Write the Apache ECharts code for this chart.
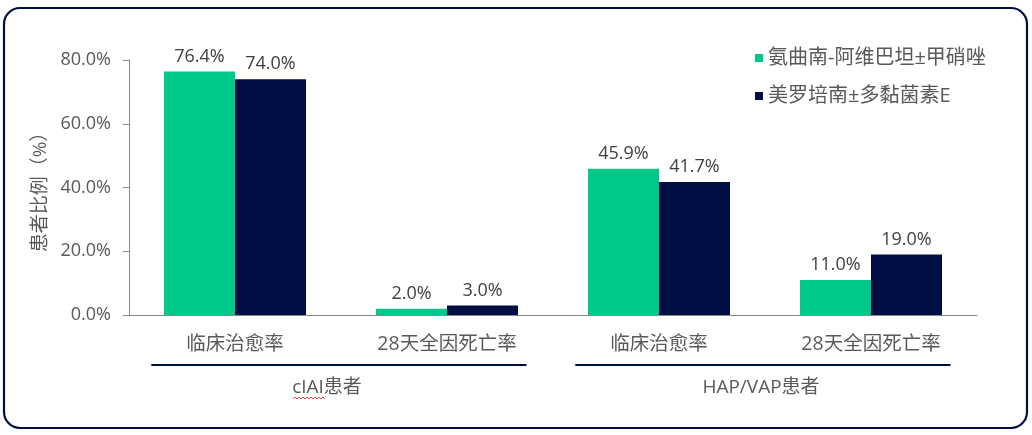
<!DOCTYPE html>
<html><head><meta charset="utf-8">
<script src="https://cdn.jsdelivr.net/npm/echarts@6/dist/echarts.min.js"></script>
<style>html,body{margin:0;padding:0;background:#fff}#c{width:1032px;height:435px}</style>
</head><body><div id="c"></div>
<script>
var categories = ['临床治愈率', '28天全因死亡率', '临床治愈率', '28天全因死亡率'];
var groupLabels = ['cIAI患者', 'HAP/VAP患者'];
var seriesNames = ['氨曲南-阿维巴坦±甲硝唑', '美罗培南±多黏菌素E'];
var seriesA = [76.4, 2.0, 45.9, 11.0];
var seriesB = [74.0, 3.0, 41.7, 19.0];
var yTicks = [0, 20, 40, 60, 80];

var FONT = '"Open Sans","Noto Sans CJK SC",sans-serif';
var GREEN = '#00C78A', NAVY = '#000E44', TXT = '#595959';
var chart = echarts.init(document.getElementById('c'));
function labelCfg() {
  return {show: true, position: 'top', distance: 6, fontSize: 18, color: '#404040', fontFamily: FONT,
    formatter: function (p) { return p.value.toFixed(1) + '%'; }};
}
chart.setOption({
  animation: false,
  textStyle: {fontFamily: FONT},
  grid: {left: 129, right: 55, top: 60, bottom: 120},
  legend: {
    orient: 'vertical', left: 750, top: 43, itemWidth: 8, itemHeight: 8, itemGap: 18,
    icon: 'rect', textStyle: {fontSize: 20, color: TXT, fontFamily: FONT},
    data: seriesNames
  },
  xAxis: {
    type: 'category', data: categories,
    axisLine: {lineStyle: {color: '#898989', width: 1}},
    axisTick: {show: false},
    axisLabel: {fontSize: 19.5, color: TXT, margin: 20, fontFamily: FONT, interval: 0}
  },
  yAxis: {
    type: 'value', min: yTicks[0], max: yTicks[yTicks.length - 1], interval: 20,
    name: '患者比例（%）', nameLocation: 'middle', nameGap: 78, nameRotate: 90,
    nameTextStyle: {fontSize: 19, color: TXT, fontFamily: FONT},
    axisLine: {show: true, lineStyle: {color: '#898989'}},
    axisTick: {show: true, length: 6, lineStyle: {color: '#898989'}},
    splitLine: {show: false},
    axisLabel: {fontSize: 18, color: TXT, margin: 18, fontFamily: FONT,
      formatter: function (v) { return v.toFixed(1) + '%'; }}
  },
  series: [
    {name: seriesNames[0], type: 'bar', data: seriesA, barGap: '0%', barCategoryGap: '33%',
     itemStyle: {color: GREEN}, label: labelCfg()},
    {name: seriesNames[1], type: 'bar', data: seriesB, barGap: '0%', barCategoryGap: '33%',
     itemStyle: {color: NAVY}, label: labelCfg()}
  ]
});

var x0 = chart.convertToPixel({xAxisIndex: 0}, 0);
var x1 = chart.convertToPixel({xAxisIndex: 0}, 1);
var catW = x1 - x0;
var yBase = chart.convertToPixel({yAxisIndex: 0}, 0);
var labelShift = [-14, -4];
var gfx = [
  {type: 'rect', shape: {x: 4, y: 8, width: 1023, height: 420, r: 16}, z: 100,
   style: {fill: 'none', stroke: NAVY, lineWidth: 2.2}, silent: true}
];
for (var g = 0; g < groupLabels.length; g++) {
  var a = chart.convertToPixel({xAxisIndex: 0}, 2 * g);
  var b = chart.convertToPixel({xAxisIndex: 0}, 2 * g + 1);
  gfx.push({type: 'line', shape: {x1: a - 0.395 * catW, y1: yBase + 50, x2: b + 0.375 * catW, y2: yBase + 50},
    style: {stroke: NAVY, lineWidth: 2.2}});
  gfx.push({type: 'text', x: (a + b) / 2 + labelShift[g], y: yBase + 73,
    style: {text: groupLabels[g], fontSize: 19, fill: TXT, fontFamily: FONT, align: 'center', verticalAlign: 'middle'}});
}
// spellcheck squiggle under "cIAI"
var sqStart = (x0 + x1) / 2 + labelShift[0] - 34, pts = [];
for (var i = 0; i <= 16; i++) pts.push([sqStart + i * 2, yBase + 83 + (i % 2 ? -1 : 1)]);
gfx.push({type: 'polyline', shape: {points: pts}, style: {stroke: '#E02020', lineWidth: 0.8, fill: 'none'}});
chart.setOption({graphic: gfx});
</script></body></html>
